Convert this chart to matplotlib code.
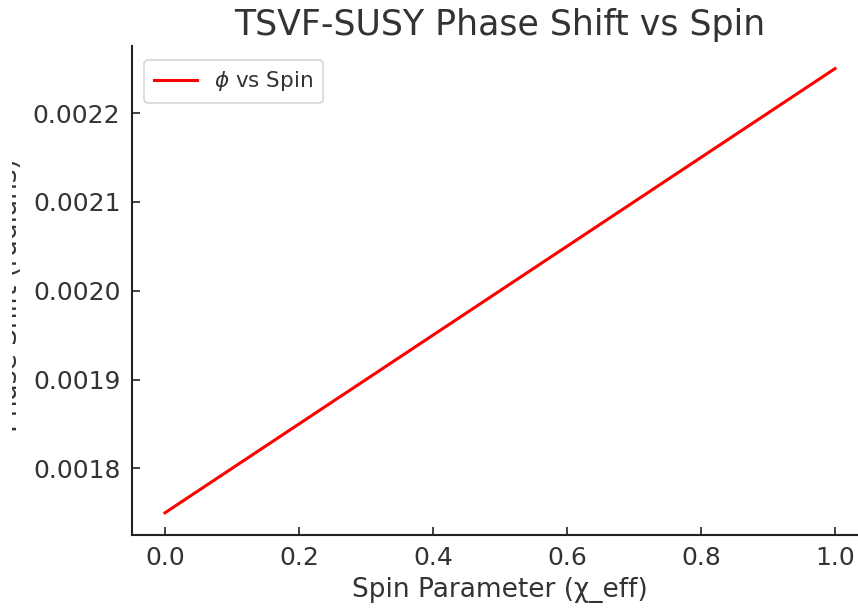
import matplotlib
matplotlib.use("Agg")
import matplotlib.pyplot as plt
from matplotlib.transforms import Bbox

# Data
spin = [0.0, 0.25, 0.5, 0.75, 1.0]
phase_shift = [0.00175, 0.001875, 0.0020, 0.002125, 0.00225]
x_ticks = [0.0, 0.2, 0.4, 0.6, 0.8, 1.0]
y_ticks = [0.0018, 0.0019, 0.0020, 0.0021, 0.0022]

text_color = "#333333"
plt.rcParams["font.family"] = ["DejaVu Sans"]

fig = plt.figure(figsize=(8.58, 6.09), dpi=100)
W, H = 858, 609
left_px, right_px, top_px, bottom_px = 131.5, 868.5, 46.4, 535
ax = fig.add_axes([left_px / W, 1 - bottom_px / H,
                   (right_px - left_px) / W, (bottom_px - top_px) / H])

ax.plot(spin, phase_shift, color="red", linewidth=2.2, label=r"$\phi$ vs Spin")

ax.set_xticks(x_ticks)
ax.set_yticks(y_ticks)
ax.set_xticklabels([f"{v:.1f}" for v in x_ticks])
ax.set_yticklabels([f"{v:.4f}" for v in y_ticks])
ax.tick_params(direction="in", length=6, width=1.2, labelsize=18,
               labelcolor=text_color, color="#222222", pad=8)

for s in ["top", "right"]:
    ax.spines[s].set_visible(False)
for s in ["left", "bottom"]:
    ax.spines[s].set_linewidth(1.5)
    ax.spines[s].set_color("#222222")

ax.set_xlabel("Spin Parameter (χ_eff)", fontsize=19, color=text_color, labelpad=5)
ylab = ax.set_ylabel("Phase Shift (radians)", fontsize=19, color=text_color)
ax.yaxis.set_label_coords((23 - left_px) / (right_px - left_px),
                          (bottom_px - 295) / (bottom_px - top_px))
# the reference shows only the right-most sliver of this label
ylab.set_clip_box(Bbox.from_extents(12, 0, W, H))
ylab.set_clip_on(True)

ax.set_title("TSVF-SUSY Phase Shift vs Spin", fontsize=25, color=text_color, pad=8)

leg = ax.legend(loc="upper left", fontsize=15.5, frameon=True, fancybox=True,
                handlelength=2.0, borderpad=0.45, bbox_to_anchor=(0.003, 0.995))
for t in leg.get_texts():
    t.set_color(text_color)
leg.get_frame().set_edgecolor("#cccccc")
leg.get_frame().set_linewidth(1.2)

fig.savefig("out.png", dpi=100)
